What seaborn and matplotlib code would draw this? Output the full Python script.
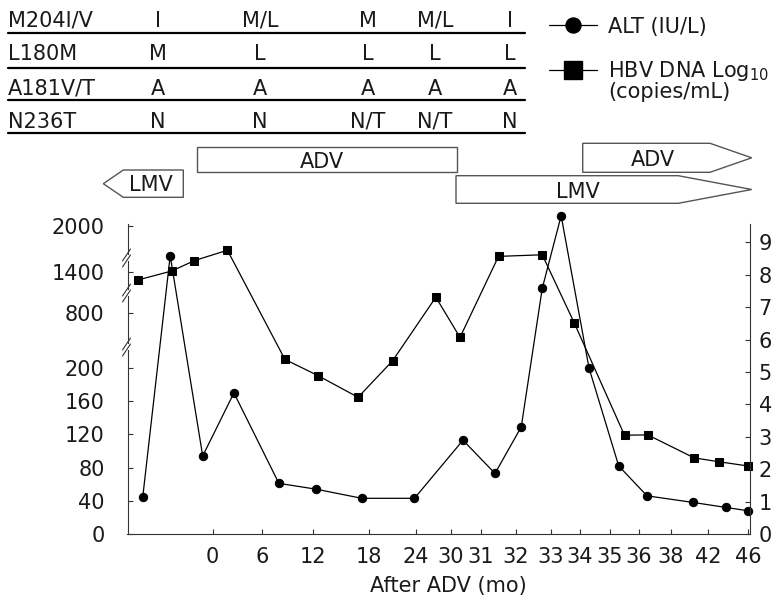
import numpy as np
import matplotlib
matplotlib.use('Agg')
import matplotlib.pyplot as plt
from matplotlib.patches import Polygon, Rectangle
from matplotlib.lines import Line2D
import seaborn as sns

# mutation table (one list per mutation, one entry per sampling column)
mutations = ['M204I/V', 'L180M', 'A181V/T', 'N236T']
m204 = ['I', 'M/L', 'M', 'M/L', 'I']
l180 = ['M', 'L', 'L', 'L', 'L']
a181 = ['A', 'A', 'A', 'A', 'A']
n236 = ['N', 'N', 'N/T', 'N/T', 'N']

# ALT (IU/L)
alt_month = [-8.4, -5.1, -1.2, 2.6, 8.0, 12.3, 17.2, 23.8, 30.4, 31.4,
             32.15, 32.75, 33.35, 34.3, 35.3, 36.5, 40.4, 43.8, 46.0]
alt_value = [44, 1613, 94, 170, 61, 54, 43, 43, 113, 73,
             129, 1161, 2134, 200, 82, 46, 38, 32, 28]

# HBV DNA (log10 copies/mL)
dna_month = [-9.0, -4.9, -2.2, 1.8, 8.7, 12.5, 16.8, 21.0, 27.4, 30.3,
             31.5, 32.75, 33.8, 35.5, 36.55, 40.5, 43.1, 46.0]
dna_value = [7.84, 8.12, 8.44, 8.76, 5.39, 4.89, 4.22, 5.35, 7.31, 6.07,
             8.57, 8.62, 6.52, 3.05, 3.06, 2.35, 2.23, 2.10]

x_ticks = [0, 6, 12, 18, 24, 30, 31, 32, 33, 34, 35, 36, 38, 42, 46]
alt_ticks = [0, 40, 80, 120, 160, 200, 800, 1400, 2000]
dna_ticks = [0, 1, 2, 3, 4, 5, 6, 7, 8, 9]

sns.set_style('ticks')
plt.rcParams['font.family'] = 'DejaVu Sans'
FS = 15
INK = '#1a1a1a'

W, H = 784, 609


def fx(x):
    return x / W


def fy(y):
    return 1 - y / H


# the month axis is not linear: each labelled month gets its own slot
m_anchor = [-12] + x_ticks + [48]
p_anchor = [112.7, 212.7, 261.7, 313.3, 369.3, 416, 451, 481, 516, 551,
            580, 610, 639, 671, 708, 748, 768]


def month_fwd(v):
    return np.interp(v, m_anchor, p_anchor)


def month_inv(p):
    return np.interp(p, p_anchor, m_anchor)


# broken ALT axis: 0-200 linear, then compressed 800 / 1400 / 2000
a_anchor = [0, 200, 800, 1400, 2000, 2600]
a_px = [0, 166, 221, 262, 308, 354]


def alt_fwd(v):
    return np.interp(v, a_anchor, a_px)


def alt_inv(p):
    return np.interp(p, a_px, a_anchor)


fig = plt.figure(figsize=(W / 100, H / 100), dpi=100)
ax = fig.add_axes([fx(127.5), fy(534), (750 - 127.5) / W, (534 - 224) / H])
ax2 = ax.twinx()

sns.lineplot(x=alt_month, y=alt_value, ax=ax, color='black', marker='o',
             markersize=6, markeredgecolor='black', linewidth=0.9,
             estimator=None, clip_on=False)
sns.lineplot(x=dna_month, y=dna_value, ax=ax2, color='black', marker='s',
             markersize=6, markeredgecolor='black', linewidth=0.9,
             estimator=None, clip_on=False)

ax.set_xscale('function', functions=(month_fwd, month_inv))
ax.set_yscale('function', functions=(alt_fwd, alt_inv))
ax.set_xlim(month_inv(127.5), month_inv(750))
ax.set_ylim(0, alt_inv(310))
ax2.set_ylim(0, 9.57)

ax.set_xticks(x_ticks, labels=[str(t) for t in x_ticks])
ax.set_yticks(alt_ticks, labels=[str(t) for t in alt_ticks])
ax2.set_yticks(dna_ticks, labels=[str(t) for t in dna_ticks])
ax.minorticks_off()
ax2.minorticks_off()

for a in (ax, ax2):
    for s in a.spines.values():
        s.set_color('#333333')
        s.set_linewidth(0.8)
    a.spines['top'].set_visible(False)
    a.set_ylabel('')
ax.spines['right'].set_visible(False)
ax2.spines['left'].set_visible(False)
ax2.spines['bottom'].set_visible(False)

ax.tick_params(axis='x', direction='in', length=3.5, width=0.8,
               labelsize=FS, pad=9.7, colors='#333333', labelcolor=INK)
ax.tick_params(axis='y', direction='in', length=3.5, width=0.8,
               labelsize=FS, pad=16.5, colors='#333333', labelcolor=INK)
ax2.tick_params(axis='y', direction='in', length=3.5, width=0.8,
                labelsize=FS, pad=6.2, colors='#333333', labelcolor=INK)

ax.set_xlabel('After ADV (mo)', fontsize=FS, color=INK)
ax.xaxis.set_label_coords(0.516, -0.135)

# break marks on the ALT axis
for yb in (258, 293, 347):
    fig.add_artist(Rectangle((fx(125.5), fy(yb + 3)), 4 / W, 6 / H,
                             transform=fig.transFigure, facecolor='white',
                             edgecolor='none', zorder=5))
    for off in (-3, 3):
        fig.add_artist(Line2D([fx(122.5), fx(130.5)],
                              [fy(yb + off + 6), fy(yb + off - 6)],
                              color='#333333', lw=0.8, zorder=6))

# mutation table
rows = [m204, l180, a181, n236]
col_x = [158, 260, 368, 435, 510]
baselines = [27, 60.5, 95, 127.5]
rules = [33.3, 67.7, 100, 133.3]
for name, vals, yb, yl in zip(mutations, rows, baselines, rules):
    fig.text(fx(8), fy(yb), name, fontsize=FS, color=INK, va='baseline')
    for cx, v in zip(col_x, vals):
        fig.text(fx(cx), fy(yb), v, fontsize=FS, color=INK,
                 ha='center', va='baseline')
    fig.add_artist(Line2D([fx(8), fx(525)], [fy(yl), fy(yl)],
                          color='black', lw=1.6))

# treatment arrows
shapes = [
    ([(196.7, 146.7), (456.7, 146.7), (456.7, 171.7), (196.7, 171.7)],
     'ADV', 321.7, 167.7),
    ([(103.3, 183.7), (123.3, 170), (183.3, 170), (183.3, 197.3), (123.3, 197.3)],
     'LMV', 151, 191),
    ([(582.7, 143.3), (710, 143.3), (751.7, 157.8), (710, 172.3), (582.7, 172.3)],
     'ADV', 653, 165.7),
    ([(456, 175.7), (678.3, 175.7), (751.7, 189.5), (678.3, 203.3), (456, 203.3)],
     'LMV', 578, 198.3),
]
for pts, label, tx, ty in shapes:
    fig.add_artist(Polygon([(fx(x), fy(y)) for x, y in pts], closed=True,
                           transform=fig.transFigure, facecolor='white',
                           edgecolor='#555555', lw=1.0))
    fig.text(fx(tx), fy(ty), label, fontsize=FS, color=INK,
             ha='center', va='baseline')

# legend
for yc, mk, ms in ((25, 'o', 10.8), (70, 's', 12.5)):
    fig.add_artist(Line2D([fx(549), fx(573), fx(597)], [fy(yc)] * 3,
                          color='black', lw=0.9, marker=mk, markersize=ms,
                          markevery=[1], markerfacecolor='black',
                          markeredgecolor='black'))
fig.text(fx(608), fy(33), 'ALT (IU/L)', fontsize=FS, color=INK, va='baseline')
fig.text(fx(608), fy(77), 'HBV DNA Log$_{10}$', fontsize=FS, color=INK,
         va='baseline')
fig.text(fx(608), fy(97.5), '(copies/mL)', fontsize=FS, color=INK,
         va='baseline')

fig.savefig('out.png', dpi=100)
